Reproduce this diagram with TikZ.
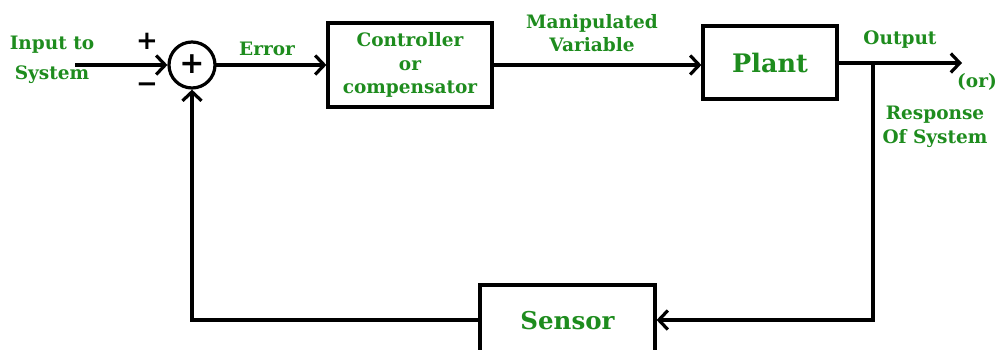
\documentclass[tikz,border=0pt]{standalone}
\usepackage{fontspec}
\setmainfont{DejaVu Serif}
\newfontfamily\signfont{DejaVu Sans}
\usetikzlibrary{arrows.meta}
\definecolor{lbl}{RGB}{30,140,30}
\begin{document}
\begin{tikzpicture}[x=1pt,y=-1pt,
  wire/.style={line width=3.2pt,line cap=rect},
  arr/.style={wire,-{Straight Barb[length=9pt,width=19pt,line width=3.2pt]}},
  blk/.style={draw,line width=3.2pt,minimum width=#1,inner sep=0pt},
  txt/.style={text=lbl,font=\bfseries\fontsize{18.5}{23.5}\selectfont,align=center,inner sep=0pt},
  sgn/.style={font=\signfont\bfseries\fontsize{26}{26}\selectfont,inner sep=0pt}]
\useasboundingbox (0,0) rectangle (997,349);

% blocks
\node[blk=164pt,minimum height=84pt,txt] (ctl) at (410,65) {Controller\\or\\compensator};
\node[blk=134pt,minimum height=73pt,txt,font=\bfseries\fontsize{25.5}{28}\selectfont] (plant) at (770,62.5) {Plant};
\node[blk=175pt,minimum height=80pt] (sensor) at (567.5,325) {};
\node[txt,font=\bfseries\fontsize{24.5}{26}\selectfont] (sensorlbl) at (567.5,321) {Sensor};
\node[draw,circle,line width=3.2pt,minimum size=46pt,inner sep=0pt] (sum) at (192,65) {};
\node[sgn,font=\signfont\bfseries\fontsize{30}{30}\selectfont] (sumplus) at (192,64) {+};

% free ends and junctions
\coordinate (in) at (77,65);
\coordinate (out) at (962,63);
\coordinate (tap) at (873,63);
\coordinate (fbr) at (873,320);
\coordinate (fbl) at (192,320);

% connectors
\draw[arr] (in) -- (sum.west);
\draw[arr] (sum.east) -- (ctl.west);
\draw[arr] (ctl.east) -- (ctl.east -| plant.west);
\draw[arr] (plant.east |- out) -- (out);
\draw[arr] (tap) -- (fbr) -- (sensor.east |- fbr);
\draw[wire] (sensor.west |- fbl) -- (fbl);
\draw[arr] (fbl) -- (sum.south);

% labels
\node[txt,font=\bfseries\fontsize{18.5}{30}\selectfont] (inlbl) at (52,60) {Input to\\System};
\node[sgn] (plus) at (147,41) {+};
\node[sgn] (minus) at (147,88) {\char"2212};
\node[txt] (errlbl) at (267,49) {Error};
\node[txt] (mvlbl) at (592,33) {Manipulated\\Variable};
\node[txt] (outlbl) at (900,40) {Output};
\node[txt] (orlbl) at (977,82) {(or)};
\node[txt] (resplbl) at (935,127) {Response\\Of System};
\end{tikzpicture}
\end{document}
